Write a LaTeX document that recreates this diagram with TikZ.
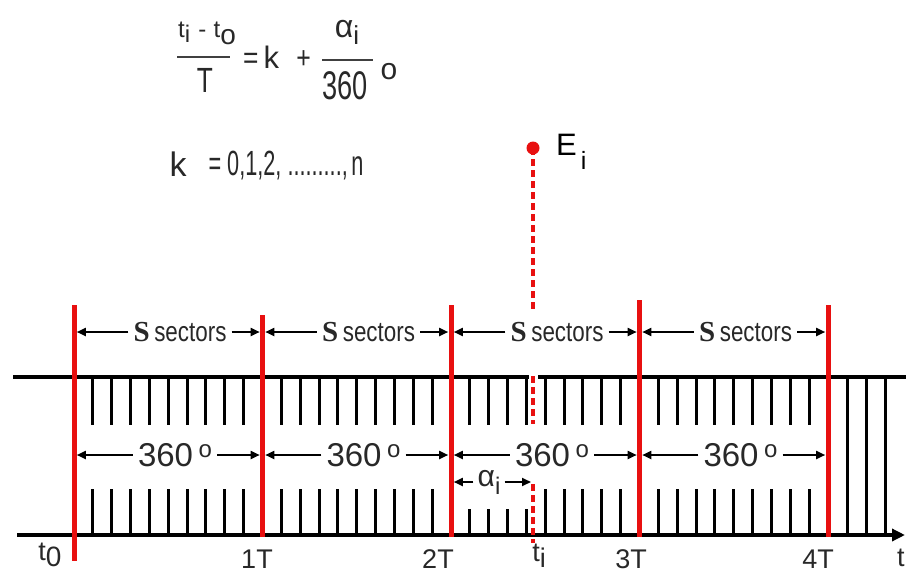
\documentclass[tikz,border=0pt]{standalone}
\usepackage{fontspec}
\usepackage{graphicx}
\setmainfont{Liberation Sans}
\newfontfamily\serifS{Liberation Serif}
\usetikzlibrary{arrows.meta}
\definecolor{myred}{RGB}{232,16,16}
\definecolor{ink}{RGB}{40,40,40}
\newcommand\fs[1]{\fontsize{#1}{#1}\selectfont}
\newcommand\hsq[2]{\scalebox{#1}[1]{#2}}
\newcommand\lowsub[2]{\raisebox{-#1}{#2}}
\begin{document}
\begin{tikzpicture}[x=1pt,y=-1pt,
  redline/.style={draw=myred,line width=5pt},
  axisline/.style={line width=3.4pt},
  tickline/.style={line width=3pt},
  dimarrow/.style={line width=1.8pt,-{Triangle[length=9pt,width=8pt]}},
  dashline/.style={draw=myred,line width=3.4pt,dash pattern=on 7pt off 4pt},
  lbl/.style={inner sep=0pt,anchor=center,text=ink},
  sect/.style={lbl,inner xsep=5pt,font=\fs{28}},
  deg/.style={lbl,inner xsep=5pt,font=\fs{33}},
  tlabel/.style={lbl,font=\fs{27}},
  fracbar/.style={line width=2.2pt,draw=black!75},
]
\useasboundingbox[fill=white] (0,0) rectangle (906,573);

% ---------------- formula ----------------
\node[lbl,font=\fs{24}] (num) at (207,33) {t\lowsub{5pt}{i}\hspace{0.35em}-\hspace{0.3em}t\lowsub{7pt}{\fs{28}o}};
\coordinate (b1a) at (177,57);
\coordinate (b1b) at (230,57);
\draw[fracbar] (b1a) -- (b1b);
\node[lbl,font=\fs{35}] (den) at (205,80) {\hsq{0.75}{T}};
\node[lbl,font=\fs{31}] (eq) at (277,57) {\hsq{0.85}{=}\,k\;\;\hsq{0.8}{+}};
\node[lbl,font=\fs{32}] (alpha) at (347,32) {α\lowsub{7pt}{\fs{26}i}};
\coordinate (b2a) at (322,60);
\coordinate (b2b) at (373,60);
\draw[fracbar] (b2a) -- (b2b);
\node[lbl,font=\fs{40}] (n360) at (345,86) {\hsq{0.68}{360}};
\node[lbl,font=\fs{30}] (odeg) at (389,72) {o};
\node[lbl,font=\fs{34}] (kk) at (178,164) {k};
\node[lbl,font=\fs{35}] (kseq) at (286,166) {\hsq{0.62}{= 0,1,2, .........,\,n}};

% ---------------- axes ----------------
\coordinate (topL) at (13,377);
\coordinate (topR) at (906,377);
\coordinate (botL) at (17,535);
\coordinate (botR) at (905,535);
\draw[axisline] (topL) -- (topR);
\draw[axisline,-{Triangle[length=13pt,width=12pt]}] (botL) -- (botR);

% ticks
\foreach \k in {0,...,3}{
  \foreach \j in {1,...,9}{
    \pgfmathsetmacro\xx{74+188.5*\k+18.85*\j}
    \pgfmathtruncatemacro\short{(\k==2)&&(\j<5)}
    \draw[tickline] (\xx,377) -- (\xx,425);
    \ifnum\short=1
      \draw[tickline] (\xx,509) -- (\xx,535);
    \else
      \draw[tickline] (\xx,489) -- (\xx,535);
    \fi
  }
}
\foreach \xx in {847,866,885}{
  \draw[tickline] (\xx,377) -- (\xx,535);
}

% red period lines
\foreach \k/\ya/\yb in {0/305/561,1/315/537,2/305/537,3/300/537,4/305/537}{
  \pgfmathsetmacro\xx{74+188.5*\k}
  \coordinate (r\k) at (\xx,0);
  \coordinate (r\k t) at (\xx,\ya);
  \coordinate (r\k b) at (\xx,\yb);
  \draw[redline] (r\k t) -- (r\k b);
}

% E_i and dashed line
\coordinate (ti) at (533,0);
\node[circle,fill=myred,inner sep=0pt,minimum size=13pt] (E) at (533,148) {};
\node[lbl,anchor=base west,font=\fs{31},text=black] (Elab) at (556,155) {E\hspace{4pt}\lowsub{14pt}{\fs{25}i}};
\coordinate (d1) at (533,310);
\coordinate (d2) at (533,376);
\coordinate (d3) at (533,424);
\coordinate (d4) at (533,484);
\coordinate (d5) at (533,543);
\draw[white,line width=9pt] (533,372) -- (533,382);
\draw[dashline] (E.center) -- (d1);
\draw[dashline] (d2) -- (d3);
\draw[dashline] (d4) -- (d5);

% S sectors labels
\foreach \k in {0,...,3}{
  \pgfmathtruncatemacro\kn{\k+1}
  \pgfmathsetmacro\xx{74+188.5*\k+106}
  \node[sect] (s\k) at (\xx,332) {{\serifS\bfseries\fs{29}S}\,\hsq{0.8}{sectors}};
  \draw[dimarrow,shorten >=2.8pt] (s\k.west) -- (s\k.west -| r\k);
  \draw[dimarrow,shorten >=2.8pt] (s\k.east) -- (s\k.east -| r\kn);
}

% 360 degree labels
\foreach \k in {0,...,3}{
  \pgfmathtruncatemacro\kn{\k+1}
  \pgfmathsetmacro\xx{74+188.5*\k+101}
  \node[deg] (g\k) at (\xx,455) {360\,\raisebox{9pt}{\fs{24}o}};
  \draw[dimarrow,shorten >=2.8pt] (g\k.west) -- (g\k.west -| r\k);
  \draw[dimarrow,shorten >=2.8pt] (g\k.east) -- (g\k.east -| r\kn);
}

% alpha_i
\node[lbl,inner xsep=4pt,font=\fs{30}] (al) at (489,482) {α\lowsub{8pt}{\fs{24}i}};
\draw[dimarrow,shorten >=2.8pt] (al.west) -- (al.west -| r2);
\draw[dimarrow,shorten >=2pt] (al.east) -- (al.east -| ti);

% bottom labels
\node[tlabel,anchor=base] (lt0) at (50,560) {t\lowsub{6pt}{\fs{28}0}};
\node[tlabel,anchor=base] (l1) at (257,568) {1T};
\node[tlabel,anchor=base] (l2) at (438,568) {2T};
\node[tlabel,anchor=base] (lti) at (539,561) {t\lowsub{6pt}{i}};
\node[tlabel,anchor=base] (l3) at (631,568) {3T};
\node[tlabel,anchor=base] (l4) at (818,568) {4T};
\node[tlabel,anchor=base west] (lt) at (897,566) {t};
\end{tikzpicture}
\end{document}
